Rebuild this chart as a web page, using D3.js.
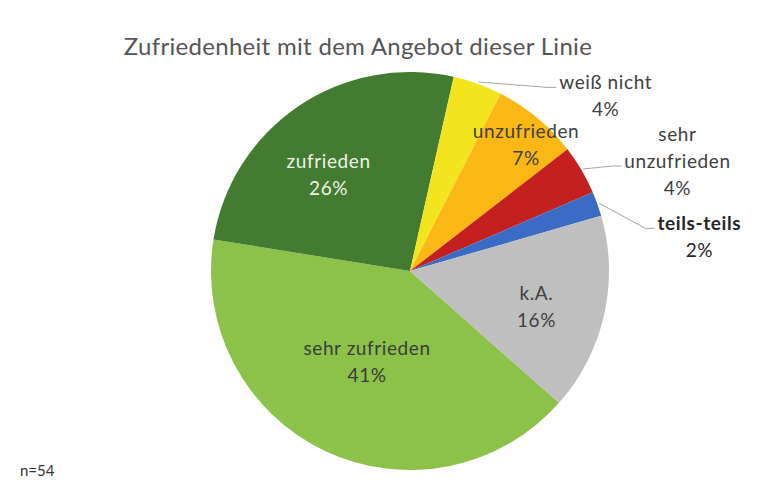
<!DOCTYPE html>
<html>
<head>
<meta charset="utf-8">
<script src="https://cdn.jsdelivr.net/npm/d3@7"></script>
<style>
  body { margin: 0; background: #fff; }
  text { font-family: Lato, "Open Sans", sans-serif; }
</style>
</head>
<body>
<div data-viz="wrapper"></div>
<script>
// Data
const categories = ["sehr zufrieden", "zufrieden", "weiß nicht", "unzufrieden", "sehr unzufrieden", "teils-teils", "k.A."]
const shares = [41, 26, 4, 7, 4, 2, 16]
const colors = ["#8cc24a", "#437b31", "#f3e51d", "#fbb715", "#c3201f", "#3b6cc5", "#bfbfbf"]
const sampleSize = 54
const title = "Zufriedenheit mit dem Angebot dieser Linie"

// Where each label sits. "in" = polar position inside the slice,
// "out" = block offset from the slice's outer edge with a leader line
const labelLayout = {
  "sehr zufrieden":   { mode: "in", r: 0.505, dAngle: 0, fill: "#3b3b3b", lines: ["sehr zufrieden"] },
  "zufrieden":        { mode: "in", r: 0.635, dAngle: -6, fill: "#eef3e8", lines: ["zufrieden"] },
  "weiß nicht":       { mode: "out", dx: 128, dy: 12, fill: "#404040", lines: ["weiß nicht"] },
  "unzufrieden":      { mode: "in", r: 0.86, dAngle: 3, fill: "#404040", lines: ["unzufrieden"] },
  "sehr unzufrieden": { mode: "out", dx: 96, dy: -9, fill: "#404040", lines: ["sehr", "unzufrieden"] },
  "teils-teils":      { mode: "out", dx: 102, dy: 33, fill: "#262626", weight: 700, lines: ["teils-teils"] },
  "k.A.":             { mode: "in", r: 0.66, dAngle: 3, fill: "#404040", lines: ["k.A."] }
}

const dimensions = {
  width: 781,
  height: 485,
  cx: 410,
  cy: 271,
  radius: 199,
  startAngle: 131.5, // degrees, clockwise from 12 o'clock
  labelSize: 19,
  lineHeight: 27
}

const data = categories.map((c, i) => ({ category: c, value: shares[i], color: colors[i] }))

const svg = d3.select("[data-viz='wrapper']").append("svg")
  .attr("width", dimensions.width)
  .attr("height", dimensions.height)

// Title
svg.append("text")
  .attr("x", 358)
  .attr("y", 55)
  .attr("text-anchor", "middle")
  .attr("font-size", 24)
  .attr("letter-spacing", 0.3)
  .attr("fill", "#555555")
  .text(title)

const toRad = d => d * Math.PI / 180
const pie = d3.pie()
  .sort(null)
  .value(d => d.value)
  .startAngle(toRad(dimensions.startAngle))
  .endAngle(toRad(dimensions.startAngle + 360))

const arc = d3.arc()
  .innerRadius(0)
  .outerRadius(dimensions.radius)

const arcs = pie(data)

const bounds = svg.append("g")
  .attr("transform", `translate(${dimensions.cx},${dimensions.cy})`)

bounds.selectAll("path.slice")
  .data(arcs)
  .join("path")
    .attr("class", "slice")
    .attr("d", arc)
    .attr("fill", d => d.data.color)

// polar helper (angle in radians, clockwise from top)
const polar = (a, r) => [Math.sin(a) * r, -Math.cos(a) * r]

const labels = bounds.append("g")

arcs.forEach(d => {
  const cfg = labelLayout[d.data.category]
  const mid = (d.startAngle + d.endAngle) / 2
  const pct = `${Math.round(d.data.value)}%`
  const lines = cfg.lines.concat([pct])
  let x, y
  if (cfg.mode === "in") {
    [x, y] = polar(mid + toRad(cfg.dAngle), cfg.r * dimensions.radius)
  } else {
    const [ex, ey] = polar(mid, dimensions.radius)
    x = ex + cfg.dx
    y = ey + cfg.dy
  }
  const n = lines.length
  const g = labels.append("text")
    .attr("text-anchor", "middle")
    .attr("font-size", dimensions.labelSize)
    .attr("letter-spacing", 0.6)
    .attr("fill", cfg.fill)
  lines.forEach((t, i) => {
    g.append("tspan")
      .attr("x", x)
      .attr("y", y + (i - (n - 1) / 2) * dimensions.lineHeight)
      .attr("dy", "0.35em")
      .attr("font-weight", i < n - 1 ? (cfg.weight || 400) : 400)
      .text(t)
  })

  if (cfg.mode === "out") {
    // leader line: slice edge -> elbow -> left edge of the label's line nearest the slice
    const [ex, ey] = polar(mid, dimensions.radius + 2)
    const lineIdx = n === 3 ? 1 : 0
    const tspan = g.selectAll("tspan").nodes()[lineIdx]
    const tb = tspan.getBBox()
    const ly = y + (lineIdx - (n - 1) / 2) * dimensions.lineHeight + 5
    const endX = tb.x - 3
    labels.append("path")
      .attr("d", d3.line()([[ex, ey], [endX - 9, ly], [endX, ly]]))
      .attr("fill", "none")
      .attr("stroke", "#a6a6a6")
      .attr("stroke-width", 1)
  }
})

// sample size note
svg.append("text")
  .attr("x", 20)
  .attr("y", 476)
  .attr("font-size", 15)
  .attr("fill", "#333333")
  .text(`n=${sampleSize}`)
</script>
</body>
</html>
